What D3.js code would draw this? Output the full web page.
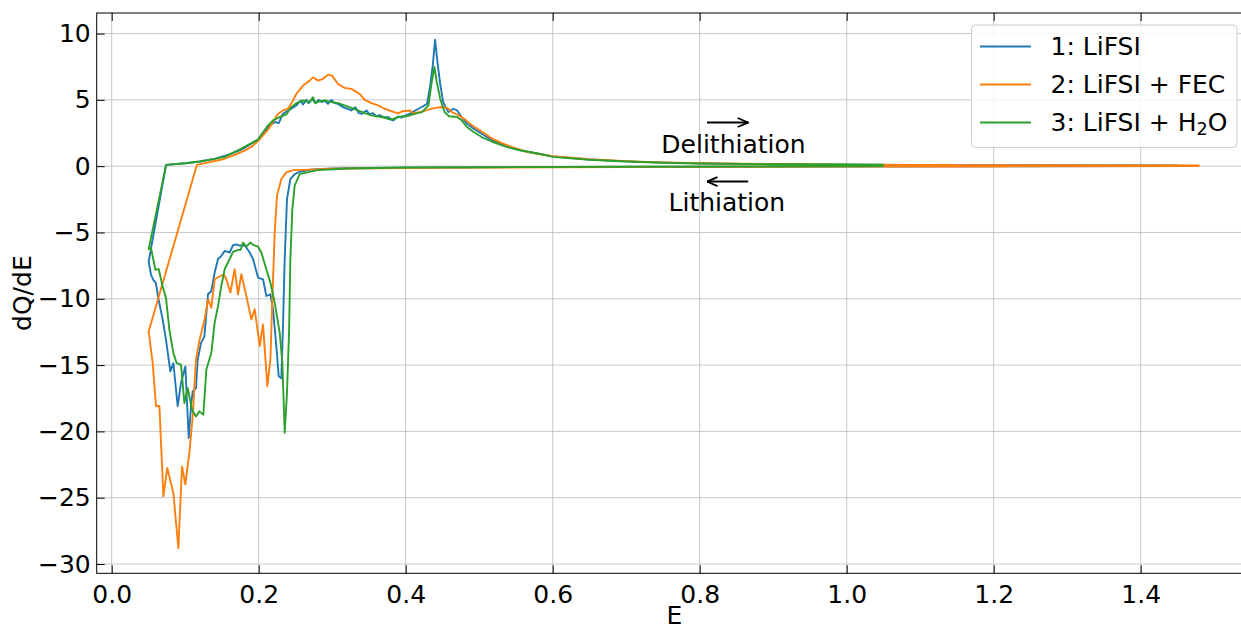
<!DOCTYPE html>
<html>
<head>
<meta charset="utf-8">
<script src="https://cdn.jsdelivr.net/npm/d3@7/dist/d3.min.js"></script>
<style>
  body { margin: 0; background: #fff; }
  svg text { font-family: "DejaVu Sans", sans-serif; fill: #000; }
</style>
</head>
<body>
<svg id="chart" width="1241" height="630"></svg>
<script>
// dQ/dE curves: each series is one path — lithiation (E decreasing) followed by delithiation (E increasing)
const seriesNames = ["1: LiFSI", "2: LiFSI + FEC", "3: LiFSI + H2O"];

const liE = [1.45, 1.2, 1.0, 0.8, 0.6, 0.45, 0.35, 0.3, 0.27, 0.2558, 0.249, 0.2431, 0.2385, 0.2354, 0.2331, 0.2308, 0.2272, 0.224, 0.2195, 0.2159, 0.2104, 0.2059, 0.1991, 0.1923, 0.1878, 0.181, 0.1741, 0.1696, 0.1651, 0.1605, 0.1537, 0.1492, 0.1447, 0.1401, 0.1356, 0.131, 0.1261, 0.1215, 0.117, 0.1147, 0.1102, 0.1079, 0.1048, 0.1002, 0.0943, 0.0898, 0.0839, 0.0798, 0.0739, 0.0694, 0.0639, 0.06, 0.0567, 0.0535, 0.0503,
  0.074, 0.1, 0.12, 0.14, 0.16, 0.1764, 0.19, 0.199, 0.2127, 0.2218, 0.2272, 0.233, 0.24, 0.2444, 0.2512, 0.2571, 0.2603, 0.2649, 0.268, 0.2726, 0.2771, 0.2816, 0.2862, 0.2898, 0.2943, 0.2989, 0.3034, 0.3079, 0.3147, 0.3206, 0.3261, 0.3315, 0.3361, 0.3406, 0.3465, 0.351, 0.3555, 0.3601, 0.3646, 0.3692, 0.376, 0.3828, 0.3896, 0.3945, 0.3986, 0.406, 0.413, 0.422, 0.429, 0.433, 0.437, 0.44, 0.4436, 0.447, 0.451, 0.458, 0.465, 0.47, 0.476, 0.483, 0.492, 0.504, 0.517, 0.535, 0.558, 0.581, 0.6, 0.65, 0.7, 0.75, 0.8, 0.9, 1.0, 1.2, 1.45];
const liQ = [0.0, -0.01, -0.02, -0.04, -0.06, -0.09, -0.13, -0.18, -0.27, -0.42, -0.6, -0.97, -2.48, -7.0, -12.05, -16.0, -15.83, -13.56, -10.8, -9.66, -9.79, -8.53, -8.4, -7.0, -6.51, -5.96, -6.0, -5.9, -5.96, -6.51, -6.39, -6.76, -7.0, -8.02, -9.41, -9.66, -12.84, -13.34, -14.6, -16.73, -16.98, -18.1, -20.5, -15.1, -16.36, -18.1, -14.85, -15.48, -13.09, -11.58, -10.08, -8.8, -8.57, -8.19, -7.19,
  0.1, 0.22, 0.35, 0.55, 0.88, 1.25, 1.7, 2.0, 2.95, 3.33, 3.25, 3.95, 4.2, 4.33, 4.58, 4.95, 4.65, 5.0, 4.75, 5.08, 4.75, 5.0, 4.83, 4.95, 4.7, 5.0, 4.75, 4.7, 4.45, 4.33, 4.2, 4.45, 4.0, 3.95, 4.2, 3.9, 4.0, 3.75, 3.85, 3.7, 3.7, 3.45, 3.75, 3.66, 3.8, 3.96, 4.2, 4.46, 4.7, 5.94, 7.67, 9.53, 7.67, 6.19, 4.83, 4.08, 4.33, 4.2, 3.71, 3.22, 2.85, 2.43, 1.98, 1.53, 1.19, 0.94, 0.74, 0.5, 0.36, 0.27, 0.21, 0.15, 0.12, 0.08, 0.05];

const fecE = [1.48, 1.2, 1.0, 0.8, 0.6, 0.45, 0.392, 0.301, 0.26, 0.2467, 0.2376, 0.2308, 0.2249, 0.2218, 0.2186, 0.2159, 0.2118, 0.2059, 0.2014, 0.1946, 0.19, 0.1832, 0.1764, 0.1719, 0.1673, 0.1615, 0.156, 0.1524, 0.1469, 0.1401, 0.1356, 0.1311, 0.1265, 0.1197, 0.1147, 0.1102, 0.1057, 0.1002, 0.0957, 0.0907, 0.0839, 0.0757, 0.0703, 0.0649, 0.0603, 0.0558, 0.0503,
  0.116, 0.133, 0.15, 0.165, 0.18, 0.19, 0.2, 0.2127, 0.2263, 0.233, 0.24, 0.2467, 0.2512, 0.2603, 0.2694, 0.2739, 0.2807, 0.2875, 0.2943, 0.2998, 0.3079, 0.317, 0.3261, 0.3329, 0.3374, 0.3442, 0.3533, 0.3624, 0.3714, 0.3805, 0.3896, 0.3945, 0.399, 0.406, 0.41, 0.42, 0.431, 0.44, 0.449, 0.456, 0.463, 0.472, 0.481, 0.49, 0.504, 0.517, 0.531, 0.545, 0.563, 0.581, 0.6, 0.65, 0.7, 0.75, 0.8, 0.9, 1.0, 1.2, 1.48];
const fecQ = [0.0, -0.02, -0.03, -0.05, -0.08, -0.12, -0.15, -0.2, -0.28, -0.3, -0.47, -0.97, -2.23, -5.0, -10.04, -14.57, -16.59, -11.93, -13.56, -10.79, -11.55, -9.79, -8.15, -9.66, -7.77, -9.53, -8.53, -8.15, -8.32, -8.53, -10.67, -10.04, -11.55, -13.06, -14.6, -18.87, -21.6, -24.0, -22.64, -28.8, -24.65, -22.76, -24.9, -18.07, -18.1, -14.85, -12.46,
  0.1, 0.3, 0.5, 0.8, 1.15, 1.45, 1.95, 2.75, 3.95, 4.2, 4.33, 4.95, 5.45, 6.08, 6.45, 6.7, 6.45, 6.58, 6.9, 6.83, 6.2, 5.9, 5.83, 5.6, 5.45, 5.0, 4.75, 4.58, 4.33, 4.15, 3.98, 4.12, 4.16, 4.2, 4.0, 4.08, 4.26, 4.4, 4.46, 4.4, 4.08, 3.84, 3.51, 3.09, 2.6, 2.1, 1.73, 1.44, 1.11, 0.92, 0.76, 0.52, 0.38, 0.28, 0.22, 0.16, 0.12, 0.08, 0.05];

const h2oE = [1.05, 0.9, 0.7, 0.5, 0.4, 0.32, 0.28, 0.2558, 0.249, 0.2458, 0.2431, 0.2413, 0.2385, 0.2354, 0.2322, 0.2286, 0.2218, 0.2159, 0.2104, 0.2036, 0.1991, 0.1932, 0.1887, 0.1832, 0.1787, 0.1755, 0.1719, 0.1651, 0.1605, 0.1537, 0.1492, 0.1447, 0.1401, 0.1356, 0.1288, 0.1247, 0.1193, 0.1147, 0.1093, 0.1034, 0.0989, 0.0943, 0.0884, 0.0839, 0.0785, 0.0739, 0.0694, 0.0639, 0.0594, 0.0565, 0.0535, 0.0503,
  0.074, 0.1, 0.12, 0.14, 0.1537, 0.1764, 0.199, 0.2127, 0.2195, 0.2286, 0.2376, 0.2444, 0.2512, 0.2603, 0.2694, 0.2739, 0.2771, 0.283, 0.2898, 0.2989, 0.3079, 0.317, 0.3261, 0.3351, 0.3442, 0.3533, 0.3624, 0.3714, 0.3805, 0.3873, 0.3941, 0.4, 0.406, 0.413, 0.422, 0.431, 0.435, 0.439, 0.442, 0.447, 0.453, 0.459, 0.47, 0.476, 0.483, 0.492, 0.504, 0.517, 0.535, 0.558, 0.581, 0.6, 0.65, 0.7, 0.75, 0.8, 0.9, 1.0, 1.05];
const h2oQ = [0.0, -0.02, -0.04, -0.08, -0.1, -0.18, -0.3, -0.6, -1.47, -3.24, -7.0, -12.56, -17.09, -20.1, -14.82, -12.56, -10.29, -8.78, -7.77, -6.51, -6.06, -5.96, -5.76, -6.06, -5.76, -6.3, -6.31, -6.46, -7.0, -7.77, -9.03, -10.54, -11.8, -14.07, -15.33, -18.74, -18.49, -18.87, -18.37, -16.73, -17.86, -14.97, -14.85, -14.1, -12.34, -9.95, -9.07, -7.76, -7.81, -7.0, -6.18, -6.26,
  0.1, 0.22, 0.35, 0.55, 0.7, 1.33, 2.0, 3.08, 3.45, 3.7, 3.9, 4.45, 4.75, 4.95, 4.83, 5.2, 4.75, 4.9, 4.95, 4.83, 4.75, 4.58, 4.4, 4.2, 4.0, 3.83, 3.75, 3.65, 3.5, 3.65, 3.75, 3.75, 3.84, 3.96, 4.08, 4.58, 6.19, 7.48, 6.44, 5.07, 4.08, 3.76, 3.71, 3.47, 2.97, 2.6, 2.18, 1.86, 1.49, 1.16, 0.94, 0.7, 0.48, 0.35, 0.26, 0.2, 0.15, 0.13, 0.12];

const xTicks = [0.0, 0.2, 0.4, 0.6, 0.8, 1.0, 1.2, 1.4];
const yTicks = [-30, -25, -20, -15, -10, -5, 0, 5, 10];
const colors = ["#1f77b4", "#ff7f0e", "#2ca02c"];

const series = [
  { name: seriesNames[0], E: liE, Q: liQ },
  { name: seriesNames[1], E: fecE, Q: fecQ },
  { name: seriesNames[2], E: h2oE, Q: h2oQ }
];

const FS = 25;
const svg = d3.select("#chart");
const margin = { left: 96.7, top: 13, right: 1252, bottom: 573.3 };

const x = d3.scaleLinear().domain([-0.0204, 1.5515]).range([margin.left, margin.right]);
const y = d3.scaleLinear().domain([-30.7, 11.55]).range([margin.bottom, margin.top]);

svg.append("rect").attr("width", 1241).attr("height", 630).attr("fill", "#fff");

svg.append("defs").append("clipPath").attr("id", "plot-clip")
  .append("rect")
  .attr("x", margin.left).attr("y", margin.top)
  .attr("width", margin.right - margin.left).attr("height", margin.bottom - margin.top);

// grid
const grid = svg.append("g").attr("stroke", "#b0b0b0").attr("stroke-opacity", 0.7).attr("stroke-width", 1);
xTicks.forEach(t => grid.append("line")
  .attr("x1", x(t)).attr("x2", x(t)).attr("y1", margin.top).attr("y2", margin.bottom));
yTicks.forEach(t => grid.append("line")
  .attr("x1", margin.left).attr("x2", margin.right).attr("y1", y(t)).attr("y2", y(t)));

// curves
const line = d3.line().x(d => x(d[0])).y(d => y(d[1]));
const curves = svg.append("g").attr("clip-path", "url(#plot-clip)");
series.forEach((s, i) => {
  curves.append("path")
    .datum(s.E.map((e, k) => [e, s.Q[k]]))
    .attr("d", line)
    .attr("fill", "none")
    .attr("stroke", colors[i])
    .attr("stroke-width", 1.9)
    .attr("stroke-linejoin", "round");
});

// axes with inward ticks
const fmtY = d => d3.format("d")(d).replace("-", "\u2212");
const xAxis = svg.append("g").attr("transform", `translate(0,${margin.bottom})`)
  .call(d3.axisBottom(x).tickValues(xTicks).tickFormat(d3.format(".1f")).tickSizeInner(-8).tickSizeOuter(0).tickPadding(12));
const xAxisTop = svg.append("g").attr("transform", `translate(0,${margin.top})`)
  .call(d3.axisTop(x).tickValues(xTicks).tickFormat("").tickSizeInner(-8).tickSizeOuter(0));
const yAxis = svg.append("g").attr("transform", `translate(${margin.left},0)`)
  .call(d3.axisLeft(y).tickValues(yTicks).tickFormat(fmtY).tickSizeInner(-8).tickSizeOuter(0).tickPadding(6));

[xAxis, xAxisTop, yAxis].forEach(a => {
  a.select(".domain").remove();
  a.selectAll(".tick line").attr("stroke", "#000").attr("stroke-width", 1);
  a.selectAll("text").attr("font-size", FS).attr("font-family", "DejaVu Sans").attr("fill", "#000");
});

// frame
svg.append("rect")
  .attr("x", margin.left).attr("y", margin.top)
  .attr("width", margin.right - margin.left).attr("height", margin.bottom - margin.top)
  .attr("fill", "none").attr("stroke", "#000").attr("stroke-width", 1);

// axis labels
svg.append("text").attr("x", (margin.left + margin.right) / 2).attr("y", 624)
  .attr("text-anchor", "middle").attr("font-size", FS).text("E");
svg.append("text")
  .attr("transform", `translate(31,${(margin.top + margin.bottom) / 2}) rotate(-90)`)
  .attr("text-anchor", "middle").attr("font-size", FS).text("dQ/dE");

// direction annotations
const defs = svg.select("defs");
defs.append("marker").attr("id", "head").attr("viewBox", "0 0 12 12")
  .attr("refX", 11.5).attr("refY", 6).attr("markerWidth", 12).attr("markerHeight", 12)
  .attr("markerUnits", "userSpaceOnUse").attr("orient", "auto")
  .append("path").attr("d", "M1,1.5 L11.5,6 L1,10.5").attr("fill", "none").attr("stroke", "#000").attr("stroke-width", 1.8);

const notes = [
  { text: "Delithiation", tx: 0.846, ty: 1.02, from: 0.810, to: 0.866, ay: 3.29 },
  { text: "Lithiation", tx: 0.837, ty: -3.37, from: 0.866, to: 0.810, ay: -1.16 }
];
notes.forEach(n => {
  svg.append("line")
    .attr("x1", x(n.from)).attr("x2", x(n.to)).attr("y1", y(n.ay)).attr("y2", y(n.ay))
    .attr("stroke", "#000").attr("stroke-width", 2).attr("marker-end", "url(#head)");
  svg.append("text").attr("x", x(n.tx)).attr("y", y(n.ty))
    .attr("text-anchor", "middle").attr("font-size", FS).text(n.text);
});

// legend
const legend = svg.append("g");
legend.append("rect")
  .attr("x", 971.5).attr("y", 25).attr("width", 265.5).attr("height", 122.5).attr("rx", 4)
  .attr("fill", "#fff").attr("fill-opacity", 0.8).attr("stroke", "#cccccc").attr("stroke-width", 1);
const rowY = [46.5, 84.5, 122.5];
series.forEach((s, i) => {
  legend.append("line").attr("x1", 980).attr("x2", 1031).attr("y1", rowY[i]).attr("y2", rowY[i])
    .attr("stroke", colors[i]).attr("stroke-width", 1.9);
  const t = legend.append("text").attr("x", 1050.5).attr("y", rowY[i] + 8.5).attr("font-size", FS);
  const m = s.name.match(/^(.*H)(\d)(O)$/);
  if (m) {
    t.append("tspan").text(m[1]);
    t.append("tspan").attr("font-size", 17.5).attr("dy", 4).text(m[2]);
    t.append("tspan").attr("dy", -4).text(m[3]);
  } else {
    t.text(s.name);
  }
});
</script>
</body>
</html>
